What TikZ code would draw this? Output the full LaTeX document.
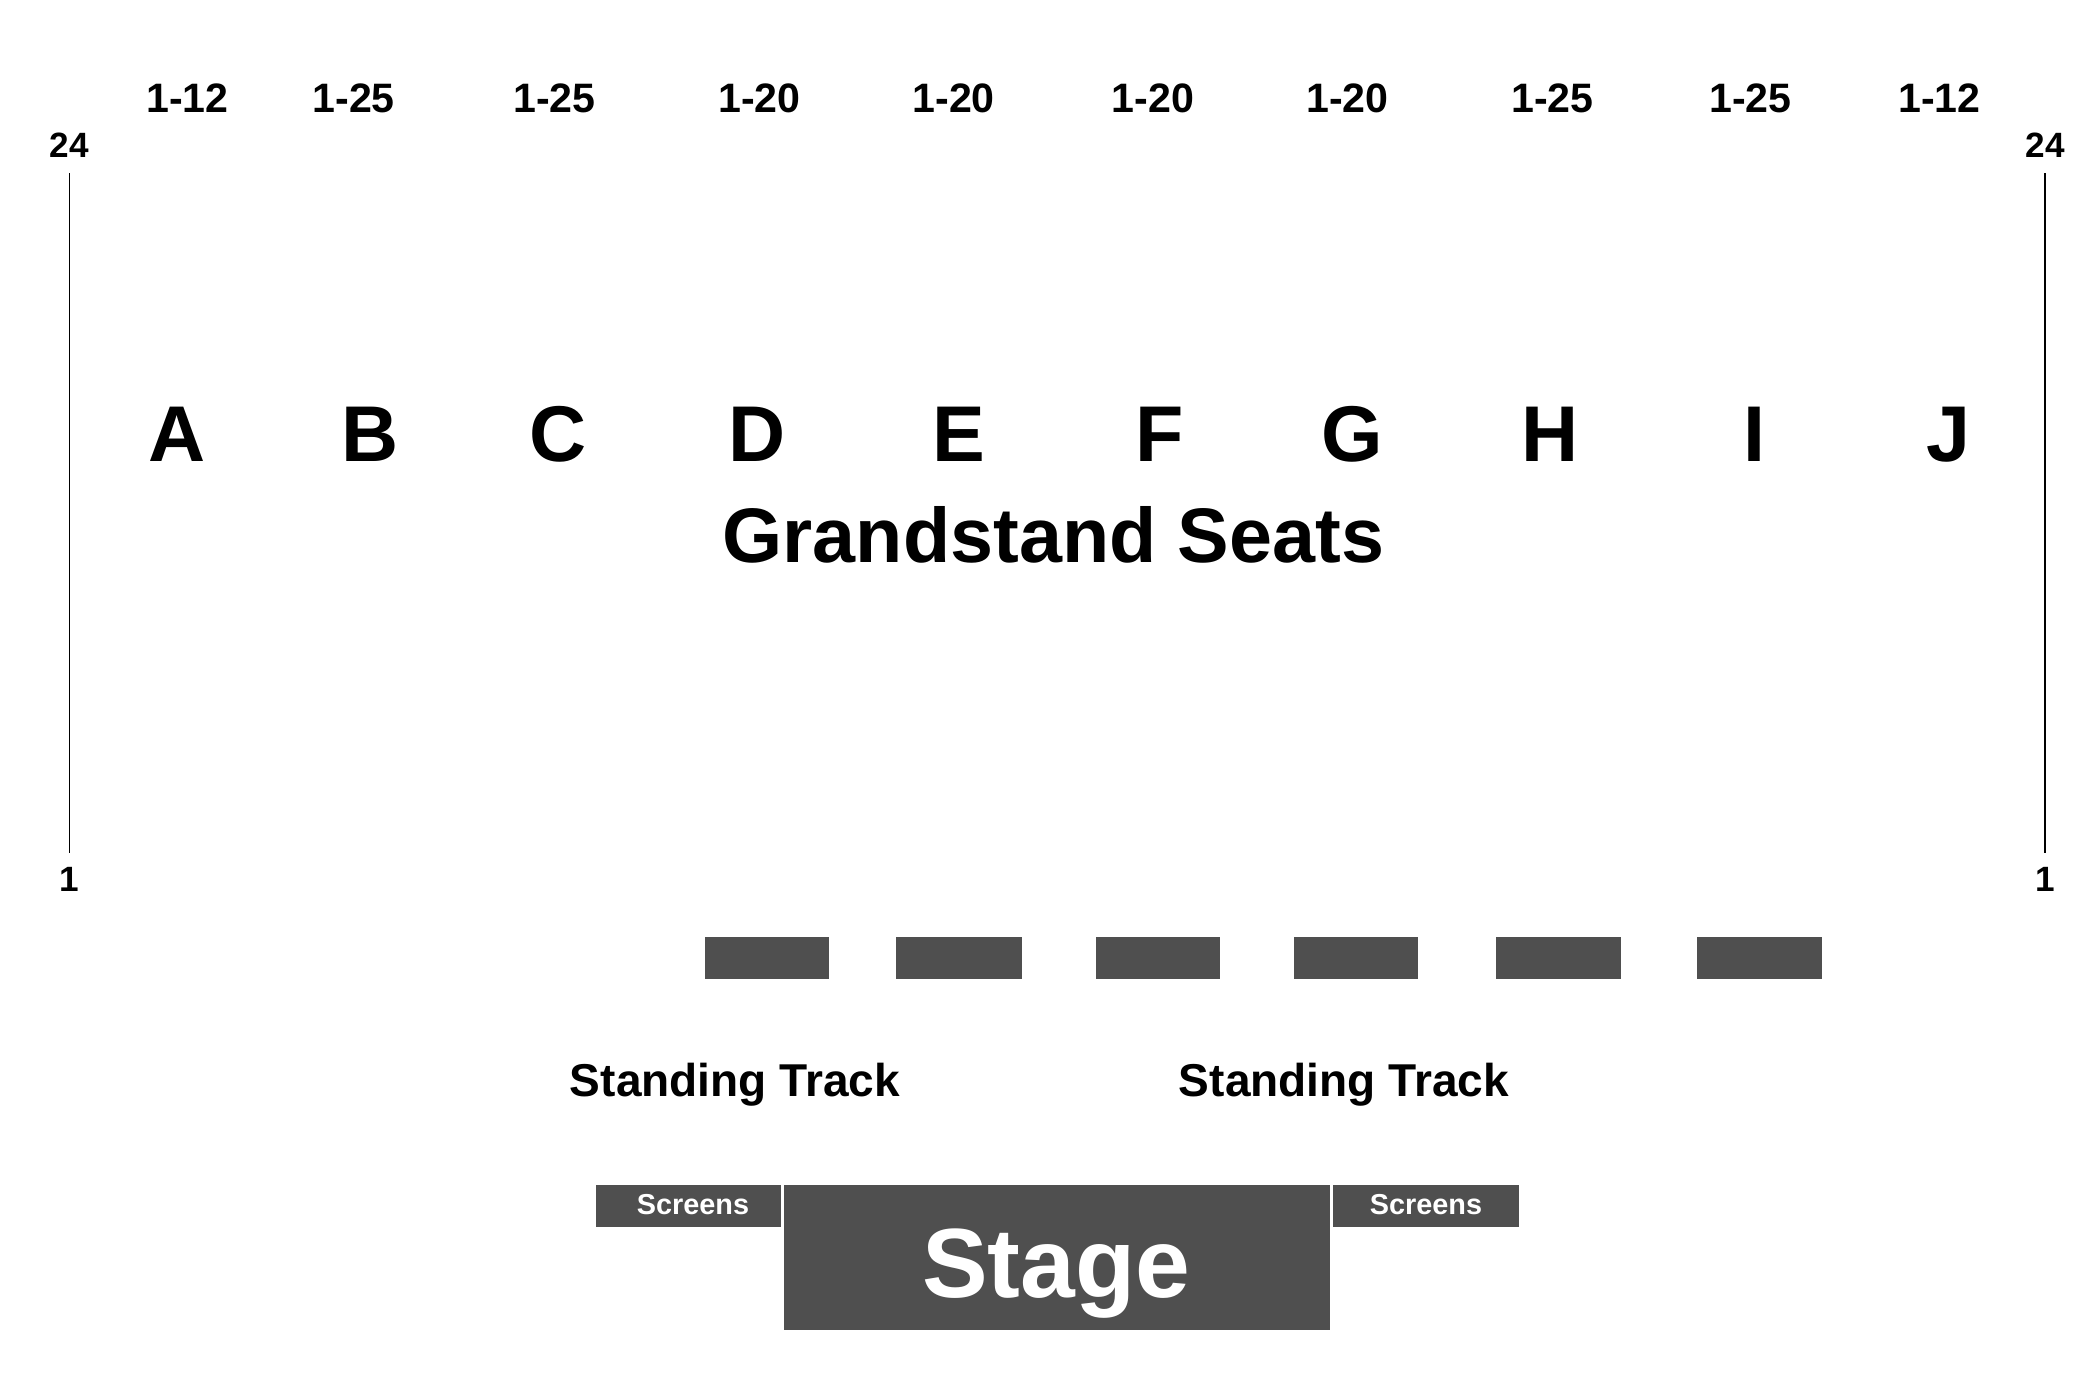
\documentclass[tikz,border=0pt]{standalone}
\usepackage{fontspec}
\setmainfont{Liberation Sans}
\definecolor{stagegray}{RGB}{79,79,79}
\tikzset{
	seatrange/.style={font=\bfseries\fontsize{11.7}{14}\selectfont, anchor=base, inner sep=0pt},
	rownum/.style={font=\bfseries\fontsize{10}{12}\selectfont, anchor=base, inner sep=0pt, outer sep=4.3pt},
	sectionlbl/.style={font=\bfseries\fontsize{22.5}{27}\selectfont, anchor=base, inner sep=0pt},
	tracklbl/.style={font=\bfseries\fontsize{13.1}{15}\selectfont, anchor=base, inner sep=0pt},
	screenlbl/.style={font=\bfseries\fontsize{8.2}{10}\selectfont, text=white, anchor=base, inner sep=0pt},
}

\begin{document}
\begin{tikzpicture}[x=0.1mm, y=-0.1mm]
		\useasboundingbox (0,0) rectangle (2100,1400);
		% seat ranges
		\node[seatrange] (rngA) at (187.5,113) {1-12};
		\node[seatrange] (rngB) at (353.6,113) {1-25};
		\node[seatrange] (rngC) at (554.5,113) {1-25};
		\node[seatrange] (rngD) at (759.4,113) {1-20};
		\node[seatrange] (rngE) at (953.6,113) {1-20};
		\node[seatrange] (rngF) at (1153.1,113) {1-20};
		\node[seatrange] (rngG) at (1347.3,113) {1-20};
		\node[seatrange] (rngH) at (1552.3,113) {1-25};
		\node[seatrange] (rngI) at (1750.5,113) {1-25};
		\node[seatrange] (rngJ) at (1939.3,113) {1-12};

		% row scale
		\node[rownum] (topL) at (69.5,158) {24};
		\node[rownum] (botL) at (69.5,892) {1};
		\draw [line width=0.4pt] (topL.south) -- (botL.north);
		\node[rownum] (topR) at (2045,158) {24};
		\node[rownum] (botR) at (2045,892) {1};
		\draw [line width=0.4pt] (topR.south) -- (botR.north);

		% sections
		\node[sectionlbl] (secA) at (176.8,462) {A};
		\node[sectionlbl] (secB) at (369.6,462) {B};
		\node[sectionlbl] (secC) at (558.5,462) {C};
		\node[sectionlbl] (secD) at (757.5,462) {D};
		\node[sectionlbl] (secE) at (958.5,462) {E};
		\node[sectionlbl] (secF) at (1159.8,462) {F};
		\node[sectionlbl] (secG) at (1352.7,462) {G};
		\node[sectionlbl] (secH) at (1549.6,462) {H};
		\node[sectionlbl] (secI) at (1754.5,462) {I};
		\node[sectionlbl] (secJ) at (1948.7,462) {J};
		\node[sectionlbl, font=\bfseries\fontsize{22}{27}\selectfont] (grand) at (1053.5,563) {Grandstand Seats};

		% barriers
		\fill [stagegray] (704.5,937) rectangle (829,979);
		\fill [stagegray] (896,937) rectangle (1022,979);
		\fill [stagegray] (1095.5,937) rectangle (1220,979);
		\fill [stagegray] (1294,937) rectangle (1418,979);
		\fill [stagegray] (1496,937) rectangle (1620.5,979);
		\fill [stagegray] (1697,937) rectangle (1821.5,979);

		\node[tracklbl] (trackL) at (735,1096) {Standing Track};
		\node[tracklbl] (trackR) at (1344,1096) {Standing Track};

		% stage
		\fill [stagegray] (596,1185) rectangle (781,1227);
		\node[screenlbl] (scrL) at (693,1214) {Screens};
		\fill [stagegray] (784,1185) rectangle (1330,1330);
		\node[anchor=base, inner sep=0pt, text=white, font=\bfseries\fontsize{28}{34}\selectfont] (stage) at (1056,1297) {Stage};
		\fill [stagegray] (1333,1185) rectangle (1519,1227);
		\node[screenlbl] (scrR) at (1426,1214) {Screens};
	\end{tikzpicture}
\end{document}
